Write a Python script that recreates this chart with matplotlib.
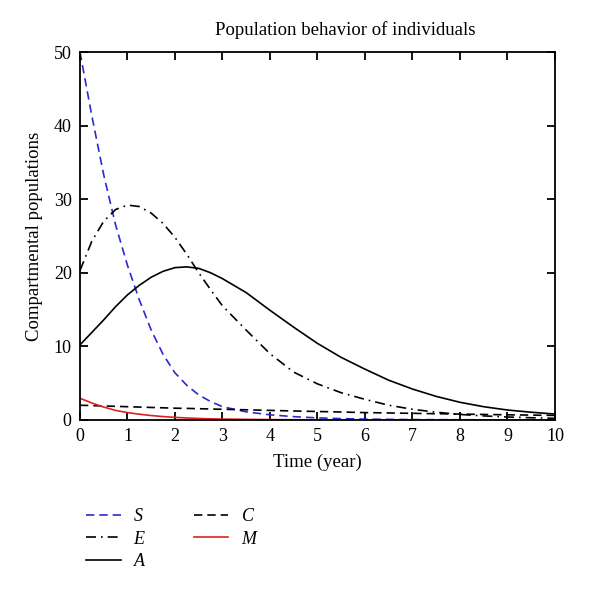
# -*- coding: utf-8 -*-
""" Population behavior of individuals - compartment curves """
import matplotlib
matplotlib.use("Agg")
import matplotlib.pyplot as plt

# -----------------------------------------------------------------------------
# Data
# -----------------------------------------------------------------------------
t = [0, 0.25, 0.5, 0.75, 1, 1.25, 1.5, 1.75, 2, 2.25, 2.5, 2.75, 3,
     3.5, 4, 4.5, 5, 5.5, 6, 6.5, 7, 7.5, 8, 8.5, 9, 9.5, 10]

S = [50, 41.3, 33.3, 26.5, 21.0, 16.3, 12.2, 8.9, 6.4, 4.7, 3.4, 2.5, 1.8,
     1.1, 0.7, 0.45, 0.28, 0.18, 0.12, 0.08, 0.05, 0.04, 0.03, 0.02, 0.02, 0.01, 0.01]
E = [20.3, 24.3, 27.0, 28.6, 29.2, 29.0, 28.1, 26.7, 24.8, 22.5, 20.0, 17.7, 15.5,
     12.2, 9.0, 6.5, 4.9, 3.7, 2.8, 2.0, 1.45, 1.05, 0.75, 0.55, 0.4, 0.3, 0.22]
A = [10.2, 11.9, 13.6, 15.4, 17.0, 18.3, 19.4, 20.2, 20.7, 20.8, 20.6, 20.0, 19.2,
     17.3, 14.9, 12.6, 10.4, 8.5, 6.9, 5.4, 4.2, 3.2, 2.4, 1.8, 1.35, 1.05, 0.8]
C = [2.0, 1.95, 1.9, 1.85, 1.8, 1.75, 1.7, 1.65, 1.6, 1.57, 1.53, 1.49, 1.45,
     1.38, 1.3, 1.22, 1.15, 1.08, 1.0, 0.95, 0.9, 0.85, 0.8, 0.75, 0.7, 0.66, 0.62]
M = [2.95, 2.3, 1.75, 1.3, 1.0, 0.78, 0.6, 0.46, 0.35, 0.27, 0.2, 0.15, 0.12,
     0.08, 0.05, 0.03, 0.02, 0.015, 0.01, 0.01, 0.01, 0.01, 0.01, 0.01, 0.01, 0.01, 0.01]

xticks = list(range(0, 11))
yticks = [0, 10, 20, 30, 40, 50]

# -----------------------------------------------------------------------------
# Plot
# -----------------------------------------------------------------------------
plt.rcParams['font.family'] = ['Liberation Serif', 'DejaVu Serif']
plt.rcParams['mathtext.fontset'] = 'custom'
plt.rcParams['mathtext.it'] = 'Liberation Serif:italic'

fig = plt.figure(figsize=(6.0, 5.89), dpi=100)
ax = fig.add_axes([0.1333, 0.287, 0.7917, 0.6247])

lw = 1.2
ax.plot(t, S, color='#2a2ad0', linestyle=(0, (5, 3)), linewidth=lw, label='$S$')
ax.plot(t, E, color='black', linestyle=(0, (6, 3, 1, 3)), linewidth=lw, label='$E$')
ax.plot(t, A, color='black', linestyle='-', linewidth=lw, label='$A$')
ax.plot(t, C, color='black', linestyle=(0, (5, 3)), linewidth=lw, label='$C$')
ax.plot(t, M, color='#e02020', linestyle='-', linewidth=lw, label='$M$')

ax.set_xlim(0, 10)
ax.set_ylim(0, 50)
ax.set_xticks(xticks)
ax.set_yticks(yticks)
ax.tick_params(direction='in', top=True, right=True, length=6, width=1.3,
               labelsize=13, pad=6)
for sp in ax.spines.values():
    sp.set_linewidth(1.3)

ax.set_xlabel('Time (year)', fontsize=13.5, labelpad=6)
ax.set_ylabel('Compartmental populations', fontsize=13.5, labelpad=8)
fig.text(345 / 600, 1 - 30 / 589, 'Population behavior of individuals',
         ha='center', va='center', fontsize=13.5)

ax.legend(loc='upper left', bbox_to_anchor=(70 / 600, 1 - 492 / 589),
          bbox_transform=fig.transFigure, ncol=2, frameon=False,
          fontsize=13, handlelength=1.9, handletextpad=0.7,
          columnspacing=2.6, labelspacing=0.3)

plt.savefig('out.png', dpi=100)
